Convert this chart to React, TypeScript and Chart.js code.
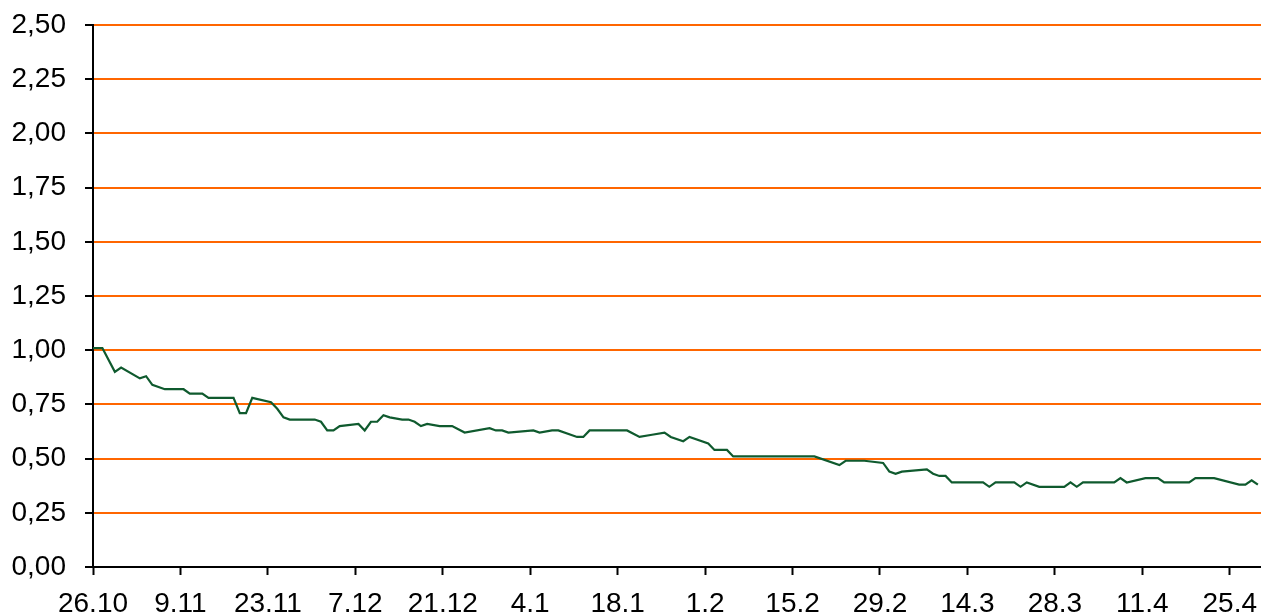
import React, { useEffect, useRef } from "react";
import { Chart, registerables } from "chart.js";

Chart.register(...registerables);

// Day offsets counted from 26.10.2007 (day 0)
const days = [-1, 0, 1, 3, 4, 7, 8, 9, 11, 14, 15, 17, 18, 22, 23, 24, 25, 28, 29, 30, 31, 35, 36, 37, 38, 39, 42, 43, 44, 45, 46, 47, 49, 50, 51, 52, 53, 55, 57, 59, 63, 64, 65, 66, 70, 71, 73, 74, 77, 78, 79, 85, 87, 89, 91, 92, 94, 95, 98, 99, 100, 101, 102, 115, 119, 120, 123, 126, 127, 128, 129, 133, 134, 135, 136, 137, 142, 143, 144, 147, 148, 149, 151, 155, 156, 157, 158, 163, 164, 165, 168, 170, 171, 175, 176, 179, 183, 184, 185, 186];

const values = [1.01, 1.01, 1.01, 0.90, 0.92, 0.87, 0.88, 0.84, 0.82, 0.82, 0.80, 0.80, 0.78, 0.78, 0.71, 0.71, 0.78, 0.76, 0.73, 0.69, 0.68, 0.68, 0.67, 0.63, 0.63, 0.65, 0.66, 0.63, 0.67, 0.67, 0.70, 0.69, 0.68, 0.68, 0.67, 0.65, 0.66, 0.65, 0.65, 0.62, 0.64, 0.63, 0.63, 0.62, 0.63, 0.62, 0.63, 0.63, 0.60, 0.60, 0.63, 0.63, 0.60, 0.61, 0.62, 0.60, 0.58, 0.60, 0.57, 0.54, 0.54, 0.54, 0.51, 0.51, 0.47, 0.49, 0.49, 0.48, 0.44, 0.43, 0.44, 0.45, 0.43, 0.42, 0.42, 0.39, 0.39, 0.37, 0.39, 0.39, 0.37, 0.39, 0.37, 0.37, 0.39, 0.37, 0.39, 0.39, 0.41, 0.39, 0.41, 0.41, 0.39, 0.39, 0.41, 0.41, 0.38, 0.38, 0.40, 0.38];

const tickDays = [0, 14, 28, 42, 56, 70, 84, 98, 112, 126, 140, 154, 168, 182];
const tickLabels = ["26.10", "9.11", "23.11", "7.12", "21.12", "4.1", "18.1", "1.2", "15.2", "29.2", "14.3", "28.3", "11.4", "25.4"];

const yMin = 0;
const yMax = 2.5;
const yStep = 0.25;
const xMin = -0.5;
const xMax = 186.5;

const FONT = { family: "'Liberation Sans', Arial, sans-serif", size: 28 };

export default function App() {
  const ref = useRef<HTMLCanvasElement | null>(null);

  useEffect(() => {
    if (!ref.current) return;
    const chart = new Chart(ref.current, {
      type: "line",
      data: {
        datasets: [
          {
            data: days.map((d, i) => ({ x: d, y: values[i] })),
            borderColor: "#0f5a2e",
            borderWidth: 2.2,
            pointRadius: 0,
            tension: 0,
            fill: false,
          },
        ],
      },
      options: {
        responsive: false,
        animation: false,
        parsing: false as any,
        layout: { padding: { top: 25, left: 0, right: 0, bottom: 0 } },
        plugins: { legend: { display: false }, tooltip: { enabled: false }, title: { display: false } },
        scales: {
          x: {
            type: "linear",
            min: xMin,
            max: xMax,
            afterBuildTicks: (scale: any) => {
              scale.ticks = tickDays.map((d) => ({ value: d - 0.5 }));
            },
            afterFit: (scale: any) => {
              scale.height = 47;
              scale.paddingLeft = 0;
              scale.paddingRight = 0;
            },
            ticks: {
              autoSkip: false,
              maxRotation: 0,
              minRotation: 0,
              padding: 12,
              color: "#000",
              font: FONT,
              callback: (_v: any, i: number) => tickLabels[i],
            },
            grid: {
              display: true,
              drawOnChartArea: false,
              drawTicks: true,
              tickLength: 8,
              tickColor: "#000",
              tickWidth: 2,
            },
            border: { display: true, color: "#000", width: 2 },
          },
          y: {
            min: yMin,
            max: yMax,
            afterFit: (scale: any) => {
              scale.width = 93;
              scale.paddingTop = 0;
              scale.paddingBottom = 0;
            },
            ticks: {
              stepSize: yStep,
              padding: 19,
              color: "#000",
              font: FONT,
              callback: (v: any) => Number(v).toFixed(2).replace(".", ","),
            },
            grid: {
              color: "#ff6600",
              lineWidth: 2,
              drawTicks: true,
              tickLength: 8,
              tickColor: "#000",
              tickWidth: 2,
            },
            border: { display: true, color: "#000", width: 2 },
          },
        },
      },
    });
    return () => chart.destroy();
  }, []);

  return (
    <div style={{ position: "fixed", left: 0, top: 0, width: 1261, height: 614, overflow: "hidden", background: "#fff" }}>
      <canvas ref={ref} width={1261} height={614} style={{ display: "block" }} />
    </div>
  );
}
